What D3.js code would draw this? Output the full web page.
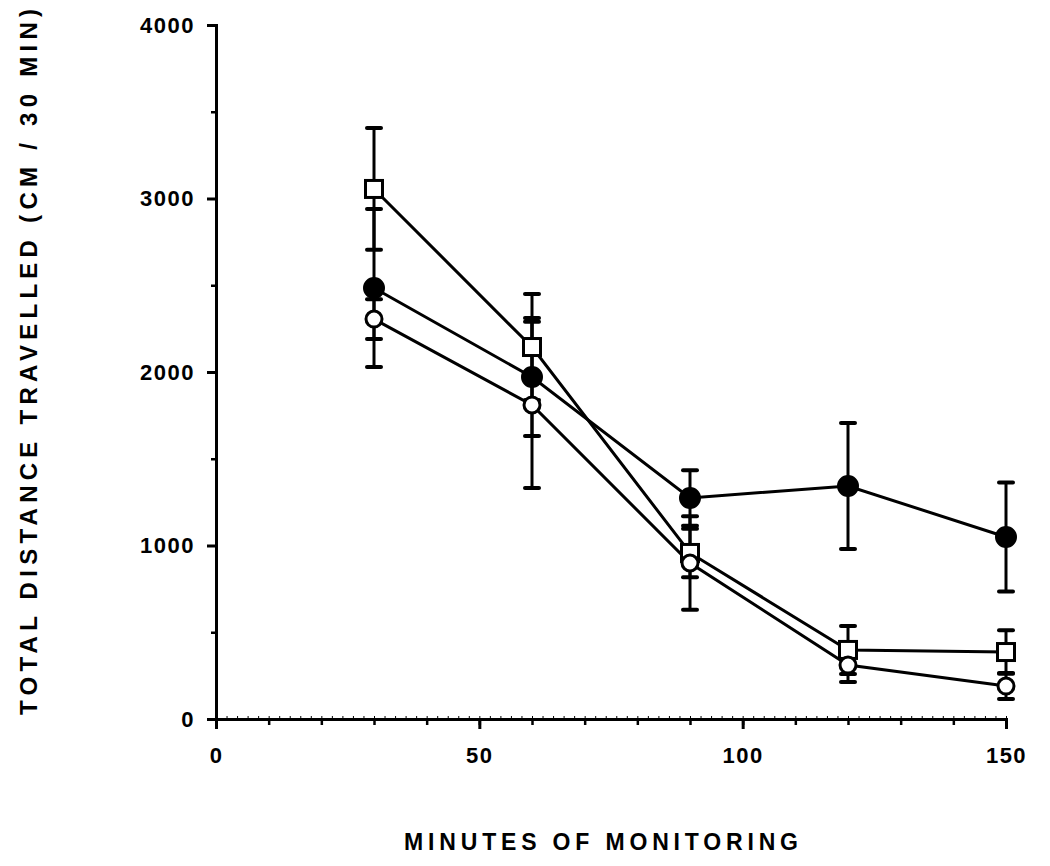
<!DOCTYPE html>
<html>
<head>
<meta charset="utf-8">
<script src="https://cdn.jsdelivr.net/npm/d3@7"></script>
<style>
  html, body { margin: 0; padding: 0; background: #fff; }
  svg { display: block; }
  text { font-family: "Liberation Sans", Arial, sans-serif; font-weight: bold; fill: #000; }
</style>
</head>
<body>
<svg id="chart" width="1050" height="866"></svg>
<script>
const minutes = [30, 60, 90, 120, 150];
const squareMeans = [3055, 2144, 957, 398, 386];
const squareErr   = [351, 306, 140, 138, 125];
const filledMeans = [2484, 1971, 1274, 1343, 1049];
const filledErr   = [455, 340, 160, 363, 314];
const openMeans   = [2305, 1810, 899, 311, 190];
const openErr     = [115, 479, 270, 98, 75];
const xTickLabels = [0, 50, 100, 150];
const yTickLabels = [0, 1000, 2000, 3000, 4000];

const svg = d3.select("#chart");
const x = d3.scaleLinear().domain([0, 150]).range([216, 1006]);
const y = d3.scaleLinear().domain([0, 4000]).range([719, 25]);

// Axes
const yAxis = d3.axisLeft(y).tickValues(yTickLabels).tickSize(9).tickPadding(12).tickFormat(d3.format("d"));
const yMinor = d3.axisLeft(y).tickValues(d3.range(500, 4000, 1000)).tickSize(5).tickFormat("");
const yTiny = d3.axisRight(y).tickValues(d3.range(0, 4001, 100)).tickSize(2).tickFormat("");
const xAxis = d3.axisBottom(x).tickValues(xTickLabels).tickSize(10).tickPadding(18).tickFormat(d3.format("d"));
const xMinor = d3.axisBottom(x).tickValues(d3.range(10, 150, 10)).tickSize(6).tickFormat("");
const xTiny = d3.axisTop(x).tickValues(d3.range(0, 151, 2)).tickSize(3).tickFormat("");

function styleAxis(g, w) {
  g.select(".domain").attr("stroke", "#000").attr("stroke-width", 3);
  g.selectAll(".tick line").attr("stroke", "#000").attr("stroke-width", w);
  g.selectAll(".tick text").style("font-size", "22px").style("letter-spacing", "1.5px");
}

svg.append("g").attr("transform", `translate(${x(0)},0)`).call(yTiny)
  .call(g => { g.select(".domain").remove(); g.selectAll(".tick line").attr("stroke", "#000").attr("stroke-width", 1); });
svg.append("g").attr("transform", `translate(0,${y(0)})`).call(xTiny)
  .call(g => { g.select(".domain").remove(); g.selectAll(".tick line").attr("stroke", "#000").attr("stroke-width", 1); });
svg.append("g").attr("transform", `translate(${x(0)},0)`).call(yMinor).call(g => styleAxis(g, 2.5));
svg.append("g").attr("transform", `translate(${x(0)},0)`).call(yAxis).call(g => styleAxis(g, 3));
svg.append("g").attr("transform", `translate(0,${y(0)})`).call(xMinor).call(g => styleAxis(g, 2.5));
svg.append("g").attr("transform", `translate(0,${y(0)})`).call(xAxis).call(g => styleAxis(g, 3));

// Axis titles
svg.append("text")
  .attr("transform", `translate(37,362) rotate(-90)`)
  .attr("text-anchor", "middle")
  .attr("textLength", 706).attr("lengthAdjust", "spacing")
  .style("font-size", "24px")
  .text("TOTAL DISTANCE TRAVELLED (CM / 30 MIN)");

svg.append("text")
  .attr("x", 601).attr("y", 850)
  .attr("text-anchor", "middle")
  .attr("textLength", 394).attr("lengthAdjust", "spacing")
  .style("font-size", "23px")
  .text("MINUTES OF MONITORING");

const series = [
  { means: squareMeans, err: squareErr, type: "square" },
  { means: filledMeans, err: filledErr, type: "filled" },
  { means: openMeans, err: openErr, type: "open" }
];

const line = d3.line().x(d => x(d.m)).y(d => y(d.v));

// Error bars
series.forEach(s => {
  const pts = minutes.map((m, i) => ({ m, v: s.means[i], e: s.err[i] }));
  const g = svg.append("g");
  g.selectAll("line.eb").data(pts).join("line")
    .attr("x1", d => x(d.m)).attr("x2", d => x(d.m))
    .attr("y1", d => y(d.v + d.e)).attr("y2", d => y(d.v - d.e))
    .attr("stroke", "#000").attr("stroke-width", 3);
  g.selectAll("line.capt").data(pts).join("line")
    .attr("x1", d => x(d.m) - 7).attr("x2", d => x(d.m) + 7)
    .attr("y1", d => y(d.v + d.e)).attr("y2", d => y(d.v + d.e))
    .attr("stroke", "#000").attr("stroke-width", 4).attr("stroke-linecap", "round");
  g.selectAll("line.capb").data(pts).join("line")
    .attr("x1", d => x(d.m) - 7).attr("x2", d => x(d.m) + 7)
    .attr("y1", d => y(d.v - d.e)).attr("y2", d => y(d.v - d.e))
    .attr("stroke", "#000").attr("stroke-width", 4).attr("stroke-linecap", "round");
});

// Lines
series.forEach(s => {
  const pts = minutes.map((m, i) => ({ m, v: s.means[i] }));
  svg.append("path").datum(pts).attr("d", line)
    .attr("fill", "none").attr("stroke", "#000").attr("stroke-width", 3);
});

// Markers
series.forEach(s => {
  const pts = minutes.map((m, i) => ({ m, v: s.means[i] }));
  const g = svg.append("g");
  if (s.type === "square") {
    g.selectAll("rect").data(pts).join("rect")
      .attr("x", d => x(d.m) - 8.5).attr("y", d => y(d.v) - 8.5)
      .attr("width", 17).attr("height", 17)
      .attr("fill", "#fff").attr("stroke", "#000").attr("stroke-width", 3);
  } else {
    g.selectAll("circle").data(pts).join("circle")
      .attr("cx", d => x(d.m)).attr("cy", d => y(d.v))
      .attr("r", s.type === "filled" ? 9.5 : 8)
      .attr("fill", s.type === "filled" ? "#000" : "#fff")
      .attr("stroke", "#000").attr("stroke-width", 3);
  }
});
</script>
</body>
</html>
